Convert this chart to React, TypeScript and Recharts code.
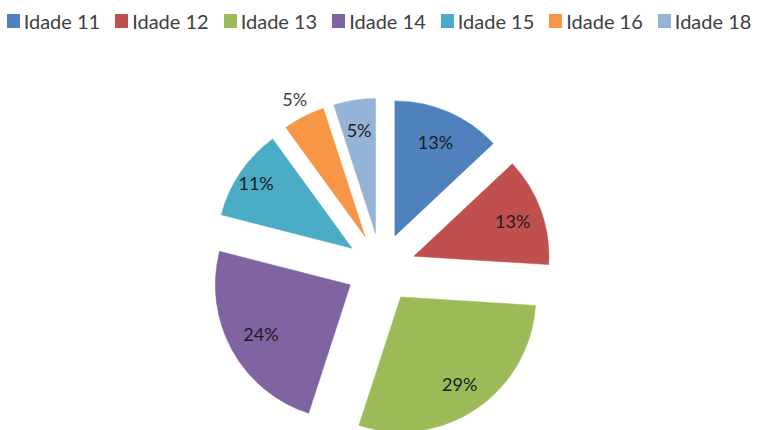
import React from 'react';
import { PieChart, Pie, Cell, Legend } from 'recharts';

const CATEGORIES = ['Idade 11', 'Idade 12', 'Idade 13', 'Idade 14', 'Idade 15', 'Idade 16', 'Idade 18'];
const VALUES = [13, 13, 29, 24, 11, 5, 5];
const COLORS = ['#4F81BD', '#C0504D', '#9BBB59', '#8064A2', '#4BACC6', '#F79646', '#95B3D7'];
const LABEL_RADIUS = [102, 105, 105, 102, 116, 155, 105];

const W = 758;
const H = 430;
const CX = 381;
const CY = 268;
const R = 135;
const EXPLODE = 35;
const RAD = Math.PI / 180;

const data = CATEGORIES.map((name, i) => ({ name, value: VALUES[i] }));
const total = VALUES.reduce((a, b) => a + b, 0);
const mids: number[] = [];
{
  let cum = 0;
  VALUES.forEach((v) => {
    mids.push(((cum + v / 2) / total) * 360);
    cum += v;
  });
}

const renderLegend = () => (
  <div
    style={{
      display: 'flex',
      justifyContent: 'center',
      gap: 15,
      fontFamily: 'Lato, sans-serif',
      fontSize: 20,
      color: '#404040',
      lineHeight: '24px',
    }}
  >
    {CATEGORIES.map((c, i) => (
      <div key={c} style={{ display: 'flex', alignItems: 'center', whiteSpace: 'nowrap' }}>
        <span style={{ width: 13, height: 14, background: COLORS[i], display: 'inline-block', marginRight: 4 }} />
        <span>{c}</span>
      </div>
    ))}
  </div>
);

const makeLabel = (k: number) => (props: any) => {
  const { cx, cy, midAngle, index } = props;
  if (index !== k) return <g />;
  const r = LABEL_RADIUS[k];
  const x = cx + r * Math.cos(-midAngle * RAD);
  const y = cy + r * Math.sin(-midAngle * RAD);
  const outside = r > R;
  return (
    <text
      x={x}
      y={y}
      textAnchor="middle"
      dominantBaseline="central"
      fontFamily="Lato, sans-serif"
      fontSize={18}
      fill={outside ? '#404040' : '#1c1c1c'}
    >
      {`${VALUES[k]}%`}
    </text>
  );
};

export default function App() {
  return (
    <div style={{ position: 'absolute', left: 0, top: 0, width: W, height: H, background: '#fff' }}>
      <PieChart width={W} height={H} margin={{ top: 0, right: 0, bottom: 0, left: 0 }}>
        <Legend
          verticalAlign="bottom"
          content={renderLegend}
          wrapperStyle={{ top: 9, bottom: 'auto', left: 0, width: W }}
        />
        {CATEGORIES.map((_, k) => (
          <Pie
            key={k}
            data={data}
            dataKey="value"
            nameKey="name"
            cx={CX + EXPLODE * Math.sin(mids[k] * RAD)}
            cy={CY - EXPLODE * Math.cos(mids[k] * RAD)}
            outerRadius={R}
            innerRadius={0}
            startAngle={90}
            endAngle={-270}
            isAnimationActive={false}
            labelLine={false}
            label={makeLabel(k)}
            legendType="none"
          >
            {data.map((d, i) => (
              <Cell
                key={d.name}
                fill={i === k ? COLORS[i] : 'none'}
                stroke={i === k ? COLORS[i] : 'none'}
                strokeWidth={0.5}
              />
            ))}
          </Pie>
        ))}
      </PieChart>
    </div>
  );
}
